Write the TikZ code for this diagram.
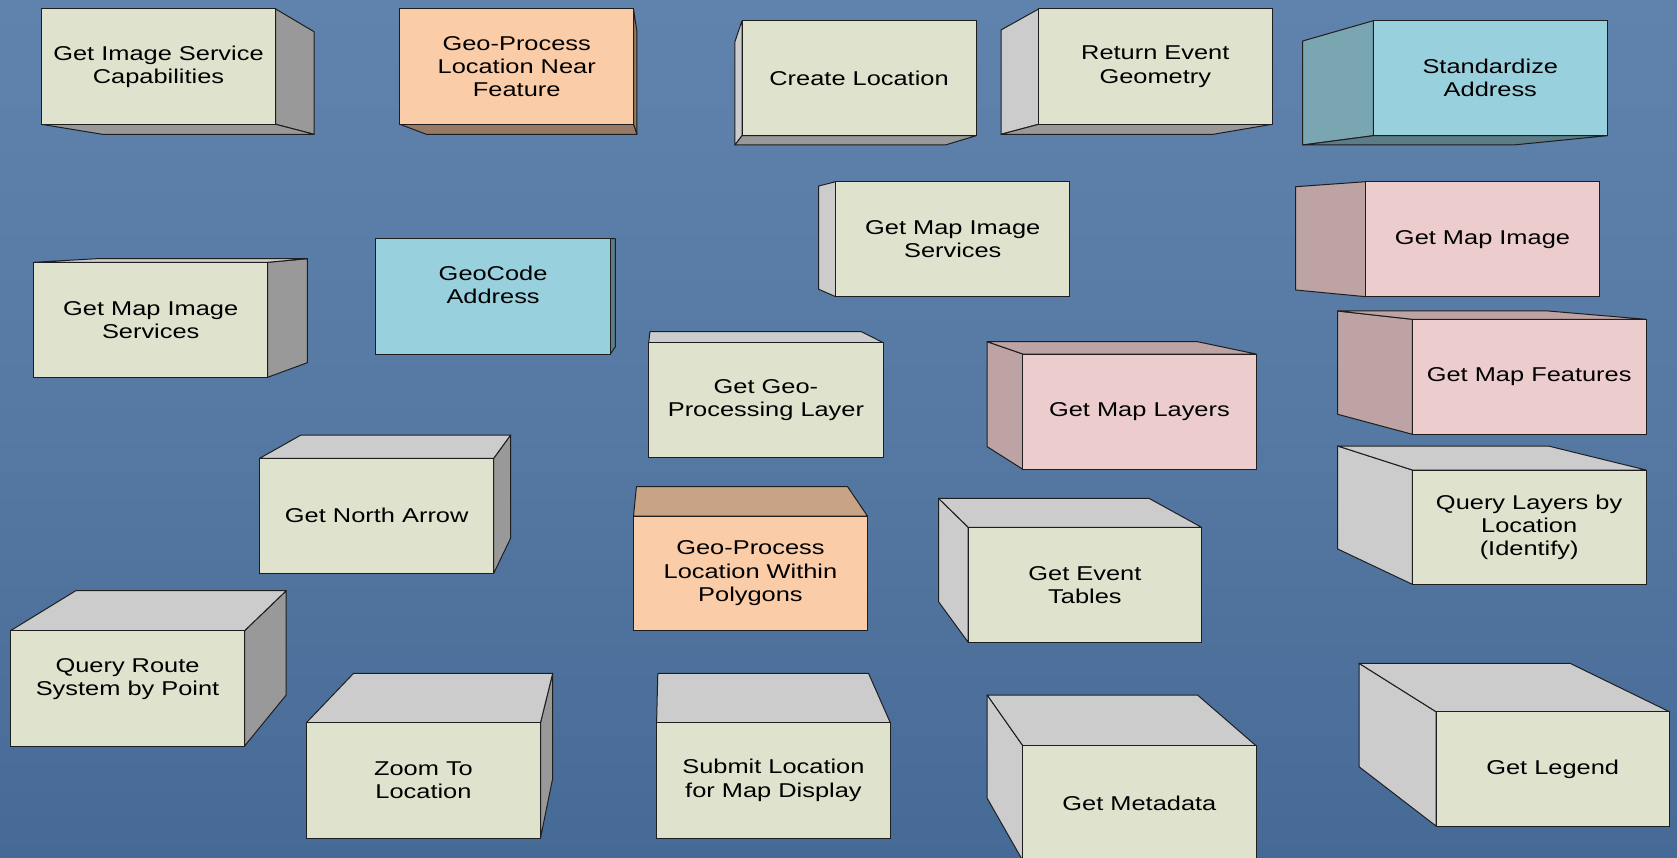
\documentclass[tikz,border=0pt]{standalone}
\usepackage{fontspec}
\setmainfont{Liberation Sans}[FakeStretch=1.27]
\definecolor{bgtop}{RGB}{96,131,173}
\definecolor{bgmid}{RGB}{86,121,163}
\definecolor{bgbot}{RGB}{70,106,150}
\definecolor{greenF}{RGB}{223,227,205}
\definecolor{pinkF}{RGB}{236,204,204}
\definecolor{blueF}{RGB}{153,208,221}
\definecolor{orangeF}{RGB}{250,204,168}
\definecolor{grayL}{RGB}{204,204,204}
\definecolor{grayD}{RGB}{153,153,153}
\definecolor{pinkL}{RGB}{189,163,163}
\definecolor{pinkD}{RGB}{142,122,122}
\definecolor{blueL}{RGB}{122,166,177}
\definecolor{blueD}{RGB}{92,125,133}
\definecolor{orangeL}{RGB}{200,163,134}
\definecolor{orangeD}{RGB}{150,122,101}
\definecolor{edge}{RGB}{30,30,30}
\tikzset{
  face/.style={draw=edge,line width=1pt,line join=round},
  frontbox/.style={draw=edge,line width=1pt,inner sep=0pt,align=center,
    font=\fontsize{20}{23.3}\selectfont,text=black},
}
% #1 colour family, #2-#5 front x1 y1 x2 y2, #6-#9 back x1 y1 x2 y2
\newcommand\boxfaces[9]{%
  \ifdim #6pt<#2pt \filldraw[face,fill=#1L] (#2,#3)--(#6,#7)--(#6,#9)--(#2,#5)--cycle;\fi
  \ifdim #8pt>#4pt \filldraw[face,fill=#1D] (#4,#3)--(#8,#7)--(#8,#9)--(#4,#5)--cycle;\fi
  \ifdim #7pt<#3pt \filldraw[face,fill=#1L] (#2,#3)--(#6,#7)--(#8,#7)--(#4,#3)--cycle;\fi
  \ifdim #9pt>#5pt \filldraw[face,fill=#1D] (#2,#5)--(#6,#9)--(#8,#9)--(#4,#5)--cycle;\fi
}
% #1 name, #2-#5 front x1 y1 x2 y2, #6 fill, #7 text
\newcommand\boxfront[7]{%
  \node[frontbox,fill=#6,minimum width={#4pt-#2pt},minimum height={#5pt-#3pt}]
    (#1) at ({(#2+#4)/2},{(#3+#5)/2}) {#7};
}
\begin{document}
\begin{tikzpicture}[x=1pt,y=-1pt]
\useasboundingbox (0,0) rectangle (1677,858);
\clip (0,0) rectangle (1677,858);
\shade[top color=bgtop,bottom color=bgbot,middle color=bgmid] (0,0) rectangle (1677,858);

% Get Image Service Capabilities
\boxfaces{gray}{41.3}{9}{275.7}{124.3}{102.3}{31.7}{314}{134.3}
\boxfront{capab}{41.3}{9}{275.7}{124.3}{greenF}{Get Image Service\\Capabilities}
% Geo-Process Location Near Feature
\boxfaces{orange}{399.9}{9}{633.5}{124.3}{426.4}{31.7}{636.9}{134.3}
\boxfront{near}{399.9}{9}{633.5}{124.3}{orangeF}{Geo-Process\\Location Near\\Feature}
% Create Location
\boxfaces{gray}{742}{20.7}{976.1}{135.7}{734.9}{41.7}{945.3}{145}
\boxfront{create}{742}{20.7}{976.1}{135.7}{greenF}{Create Location}
% Return Event Geometry
\boxfaces{gray}{1038.6}{9}{1272}{124.3}{1001}{30}{1213.3}{134.3}
\boxfront{retgeom}{1038.6}{9}{1272}{124.3}{greenF}{Return Event\\Geometry}
% Standardize Address
\boxfaces{blue}{1373.3}{20.7}{1607.3}{135.7}{1302.7}{41}{1513.3}{145}
\boxfront{stdaddr}{1373.3}{20.7}{1607.3}{135.7}{blueF}{Standardize\\Address}
% Get Map Image Services (middle)
\boxfaces{gray}{835.7}{181.7}{1069.8}{296.7}{818.7}{186}{1050}{289.3}
\boxfront{mapsvc2}{835.7}{181.7}{1069.8}{296.7}{greenF}{Get Map Image\\Services}
% Get Map Image
\boxfaces{pink}{1365.7}{181.7}{1599.3}{296.7}{1295.7}{186.7}{1580}{290}
\boxfront{mapimg}{1365.7}{181.7}{1599.3}{296.7}{pinkF}{Get Map Image}
% Get Map Image Services (left)
\boxfaces{gray}{33.7}{262.3}{267.7}{377.3}{96.8}{258.7}{307.3}{362.7}
\boxfront{mapsvc1}{33.7}{262.3}{267.7}{377.3}{greenF}{Get Map Image\\Services}
% GeoCode Address
\boxfaces{blue}{375.9}{238.7}{610.3}{354}{390}{238.7}{615.4}{346.7}
\boxfront{geocode}{375.9}{238.7}{610.3}{354}{blueF}{GeoCode\\Address\\\mbox{}}
% Get Geo-Processing Layer
\boxfaces{gray}{648.7}{342.7}{883.2}{457.7}{649.9}{331.7}{861.4}{450}
\boxfront{gplayer}{648.7}{342.7}{883.2}{457.7}{greenF}{Get Geo-\\Processing Layer}
% Get Map Layers
\boxfaces{pink}{1022.8}{354}{1256}{469.3}{987.2}{341.7}{1197.5}{446.7}
\boxfront{maplayers}{1022.8}{354}{1256}{469.3}{pinkF}{Get Map Layers}
% Get Map Features
\boxfaces{pink}{1412.3}{319.3}{1646}{434.3}{1337.7}{311}{1548.3}{414.3}
\boxfront{mapfeat}{1412.3}{319.3}{1646}{434.3}{pinkF}{Get Map Features}
% Query Layers by Location
\boxfaces{gray}{1412.3}{470}{1646}{584.3}{1337.7}{446}{1548.3}{549}
\boxfront{identify}{1412.3}{470}{1646}{584.3}{greenF}{Query Layers by\\Location\\(Identify)}
% Get North Arrow
\boxfaces{gray}{259.7}{458.3}{493.7}{573.3}{301}{435}{510.6}{538.3}
\boxfront{north}{259.7}{458.3}{493.7}{573.3}{greenF}{Get North Arrow}
% Geo-Process Location Within Polygons
\boxfaces{orange}{633.5}{516}{867.4}{630.7}{636.4}{486.7}{847.6}{610}
\boxfront{within}{633.5}{516}{867.4}{630.7}{orangeF}{Geo-Process\\Location Within\\Polygons}
% Get Event Tables
\boxfaces{gray}{968.2}{527.3}{1201.5}{642.3}{938.5}{498.3}{1148.9}{601.7}
\boxfront{events}{968.2}{527.3}{1201.5}{642.3}{greenF}{Get Event\\Tables}
% Query Route System by Point
\boxfaces{gray}{10.5}{630.7}{244.6}{746}{75.8}{590.7}{286.2}{695}
\boxfront{route}{10.5}{630.7}{244.6}{746}{greenF}{Query Route\\System by Point\\\mbox{}}
% Zoom To Location
\boxfaces{gray}{306.4}{722.7}{540.5}{838}{353.6}{673.3}{552.7}{778.3}
\boxfront{zoomto}{306.4}{722.7}{540.5}{838}{greenF}{Zoom To\\Location}
% Submit Location for Map Display
\boxfaces{gray}{656.6}{722.7}{890.3}{838}{657.8}{673.3}{868.5}{800}
\boxfront{submit}{656.6}{722.7}{890.3}{838}{greenF}{Submit Location\\for Map Display}
% Get Metadata
\boxfaces{gray}{1022.8}{745.7}{1256}{860.7}{987.2}{695}{1197.5}{798.3}
\boxfront{metadata}{1022.8}{745.7}{1256}{860.7}{greenF}{Get Metadata}
% Get Legend
\boxfaces{gray}{1436}{711.7}{1669.3}{826}{1359}{663.3}{1570}{766.7}
\boxfront{legend}{1436}{711.7}{1669.3}{826}{greenF}{Get Legend}
\end{tikzpicture}
\end{document}
